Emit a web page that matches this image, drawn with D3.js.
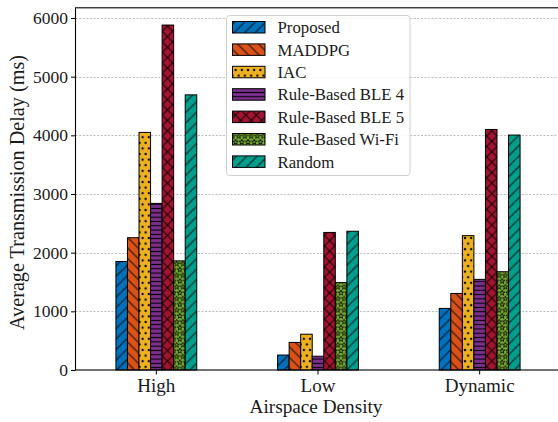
<!DOCTYPE html>
<html>
<head>
<meta charset="utf-8">
<script src="https://cdn.jsdelivr.net/npm/d3@7"></script>
<style>
  html, body { margin: 0; padding: 0; background: #fff; }
  svg { display: block; }
  text { font-family: "Liberation Serif", "DejaVu Serif", serif; fill: #1a1a1a; }
</style>
</head>
<body>
<svg id="chart" width="558" height="422"></svg>
<script>
// Airspace density scenarios on the x axis
const categories = ["High", "Low", "Dynamic"];

// Methods compared (legend order)
const methods = ["Proposed", "MADDPG", "IAC", "Rule-Based BLE 4", "Rule-Based BLE 5", "Rule-Based Wi-Fi", "Random"];

// Average transmission delay (ms) per scenario: High, Low, Dynamic
const delayProposed = [1850, 255, 1050];
const delayMADDPG   = [2255, 470, 1305];
const delayIAC      = [4050, 610, 2290];
const delayBLE4     = [2840, 235, 1545];
const delayBLE5     = [5880, 2345, 4100];
const delayWiFi     = [1860, 1490, 1675];
const delayRandom   = [4690, 2365, 4005];

const yTicks = [0, 1000, 2000, 3000, 4000, 5000, 6000];
const yMax = 6174;

const series = [delayProposed, delayMADDPG, delayIAC, delayBLE4, delayBLE5, delayWiFi, delayRandom];

// Styling per method: fill colour and hatch kind
const colors = ["#0072BD", "#D95319", "#EDB120", "#7E2F8E", "#A2142F", "#77AC30", "#009E8C"];
const hatches = ["fwd", "back", "dots", "hlines", "cross", "stars", "fwd"];

const FONT = '"Liberation Serif", "DejaVu Serif", serif';
const svg = d3.select("#chart");
const W = 558, H = 422;
const plot = { left: 75.5, right: 560.5, top: 7.8, bottom: 370 };

const x = d3.scaleBand().domain(categories).range([plot.left, plot.right]).padding(0);
const y = d3.scaleLinear().domain([0, yMax]).range([plot.bottom, plot.top]);
const barW = x.bandwidth() * 0.5 / methods.length;

// font size that makes `str` span `width` pixels in the serif face
function fitSize(str, width) {
  const t = svg.append("text").style("font-family", FONT).style("font-size", "100px").text(str);
  const w = t.node().getComputedTextLength();
  t.remove();
  return 100 * width / w;
}
const tickSizeY = fitSize("6000", 35);
const tickSizeX = fitSize("Dynamic", 70);
const legendSize = fitSize("Rule-Based Wi-Fi", 121.5);
const xTitleSize = fitSize("Airspace Density", 133);
const yTitleSize = fitSize("Average Transmission Delay (ms)", 275);

// ---- hatch patterns ----
const defs = svg.append("defs");
function makePattern(id, color, kind) {
  let p;
  if (kind === "fwd" || kind === "back" || kind === "hlines" || kind === "cross") {
    const s = kind === "hlines" ? 4.3 : 7.4;
    p = defs.append("pattern").attr("id", id).attr("patternUnits", "userSpaceOnUse")
      .attr("width", s).attr("height", s);
    if (kind === "fwd") p.attr("patternTransform", "rotate(-45)");
    if (kind === "back") p.attr("patternTransform", "rotate(45)");
    if (kind === "cross") p.attr("patternTransform", "rotate(45)");
    p.append("rect").attr("width", s).attr("height", s).attr("fill", color);
    const stroke = kind === "hlines" ? 1.1 : 0.9;
    p.append("line").attr("x1", 0).attr("x2", s).attr("y1", s / 2).attr("y2", s / 2)
      .attr("stroke", "#000").attr("stroke-width", stroke);
    if (kind === "cross") {
      p.append("line").attr("x1", s / 2).attr("x2", s / 2).attr("y1", 0).attr("y2", s)
        .attr("stroke", "#000").attr("stroke-width", stroke);
    }
  } else if (kind === "dots") {
    const sx = 6.2, sy = 5.6;
    p = defs.append("pattern").attr("id", id).attr("patternUnits", "userSpaceOnUse")
      .attr("width", sx).attr("height", sy * 2);
    p.append("rect").attr("width", sx).attr("height", sy * 2).attr("fill", color);
    [[0, sy / 2], [sx, sy / 2], [sx / 2, sy * 1.5]].forEach(([cx, cy]) =>
      p.append("circle").attr("cx", cx).attr("cy", cy).attr("r", 1.15).attr("fill", "#000"));
  } else if (kind === "stars") {
    const sx = 6.2, sy = 5.8;
    p = defs.append("pattern").attr("id", id).attr("patternUnits", "userSpaceOnUse")
      .attr("width", sx).attr("height", sy * 2);
    p.append("rect").attr("width", sx).attr("height", sy * 2).attr("fill", color);
    const star = d3.symbol().type(d3.symbolStar).size(9);
    [[0, sy / 2], [sx, sy / 2], [sx / 2, sy * 1.5]].forEach(([cx, cy]) =>
      p.append("path").attr("d", star()).attr("transform", `translate(${cx},${cy})`)
        .attr("fill", "none").attr("stroke", "#000").attr("stroke-width", 0.8));
  }
}
methods.forEach((m, i) => makePattern("hatch" + i, colors[i], hatches[i]));

// ---- grid ----
svg.append("g").selectAll("line").data(yTicks.filter(t => t > 0)).join("line")
  .attr("x1", plot.left).attr("x2", W)
  .attr("y1", d => Math.round(y(d)) + 0.5).attr("y2", d => Math.round(y(d)) + 0.5)
  .attr("stroke", "#b3b3b3").attr("stroke-width", 0.9).attr("stroke-dasharray", "2,1.6");

// ---- bars ----
methods.forEach((m, i) => {
  svg.append("g").selectAll("rect").data(categories.map((c, j) => ({ c, v: series[i][j] }))).join("rect")
    .attr("x", d => x(d.c) + x.bandwidth() / 2 + (i - 3.5) * barW)
    .attr("y", d => y(d.v))
    .attr("width", barW)
    .attr("height", d => y(0) - y(d.v))
    .attr("fill", `url(#hatch${i})`)
    .attr("stroke", "#000").attr("stroke-width", 1);
});

// ---- axes ----
const yAxis = svg.append("g").attr("transform", `translate(${plot.left},0)`)
  .call(d3.axisLeft(y).tickValues(yTicks).tickFormat(d3.format("d")).tickSize(4.5).tickPadding(3));
yAxis.attr("font-family", null).attr("font-size", null);
yAxis.select(".domain").remove();
yAxis.selectAll("line").attr("stroke", "#000").attr("stroke-width", 1);
yAxis.selectAll("text").style("font-size", tickSizeY + "px").attr("fill", "#1a1a1a")
  .style("font-family", FONT);

const xAxis = svg.append("g").attr("transform", `translate(0,${plot.bottom})`)
  .call(d3.axisBottom(x).tickSize(4.5).tickPadding(4));
xAxis.attr("font-family", null).attr("font-size", null);
xAxis.select(".domain").remove();
xAxis.selectAll("line").attr("stroke", "#000").attr("stroke-width", 1);
xAxis.selectAll("text").style("font-size", tickSizeX + "px").attr("fill", "#1a1a1a")
  .style("font-family", FONT);

// frame
svg.append("rect").attr("x", plot.left).attr("y", plot.top)
  .attr("width", plot.right - plot.left).attr("height", plot.bottom - plot.top)
  .attr("fill", "none").attr("stroke", "#000").attr("stroke-width", 1.1);

// axis titles
svg.append("text").attr("x", (plot.left + plot.right) / 2 - 2).attr("y", 413)
  .attr("text-anchor", "middle").style("font-size", xTitleSize + "px").text("Airspace Density");
svg.append("text").attr("transform", `translate(24,${(55 + 330) / 2}) rotate(-90)`)
  .attr("text-anchor", "middle").style("font-size", yTitleSize + "px").text("Average Transmission Delay (ms)");

// ---- legend ----
const lg = svg.append("g");
lg.append("rect").attr("x", 226.5).attr("y", 15.5).attr("width", 183.5).attr("height", 160)
  .attr("rx", 3).attr("fill", "rgba(255,255,255,0.85)").attr("stroke", "#d0d0d0").attr("stroke-width", 1);
methods.forEach((m, i) => {
  const cy = 27.3 + i * 22.4;
  lg.append("rect").attr("x", 232.5).attr("y", cy - 5.8).attr("width", 32.5).attr("height", 11.5)
    .attr("fill", `url(#hatch${i})`).attr("stroke", "#000").attr("stroke-width", 1);
  lg.append("text").attr("x", 277.5).attr("y", cy).attr("dy", "0.35em")
    .style("font-size", legendSize + "px").text(m);
});
</script>
</body>
</html>
